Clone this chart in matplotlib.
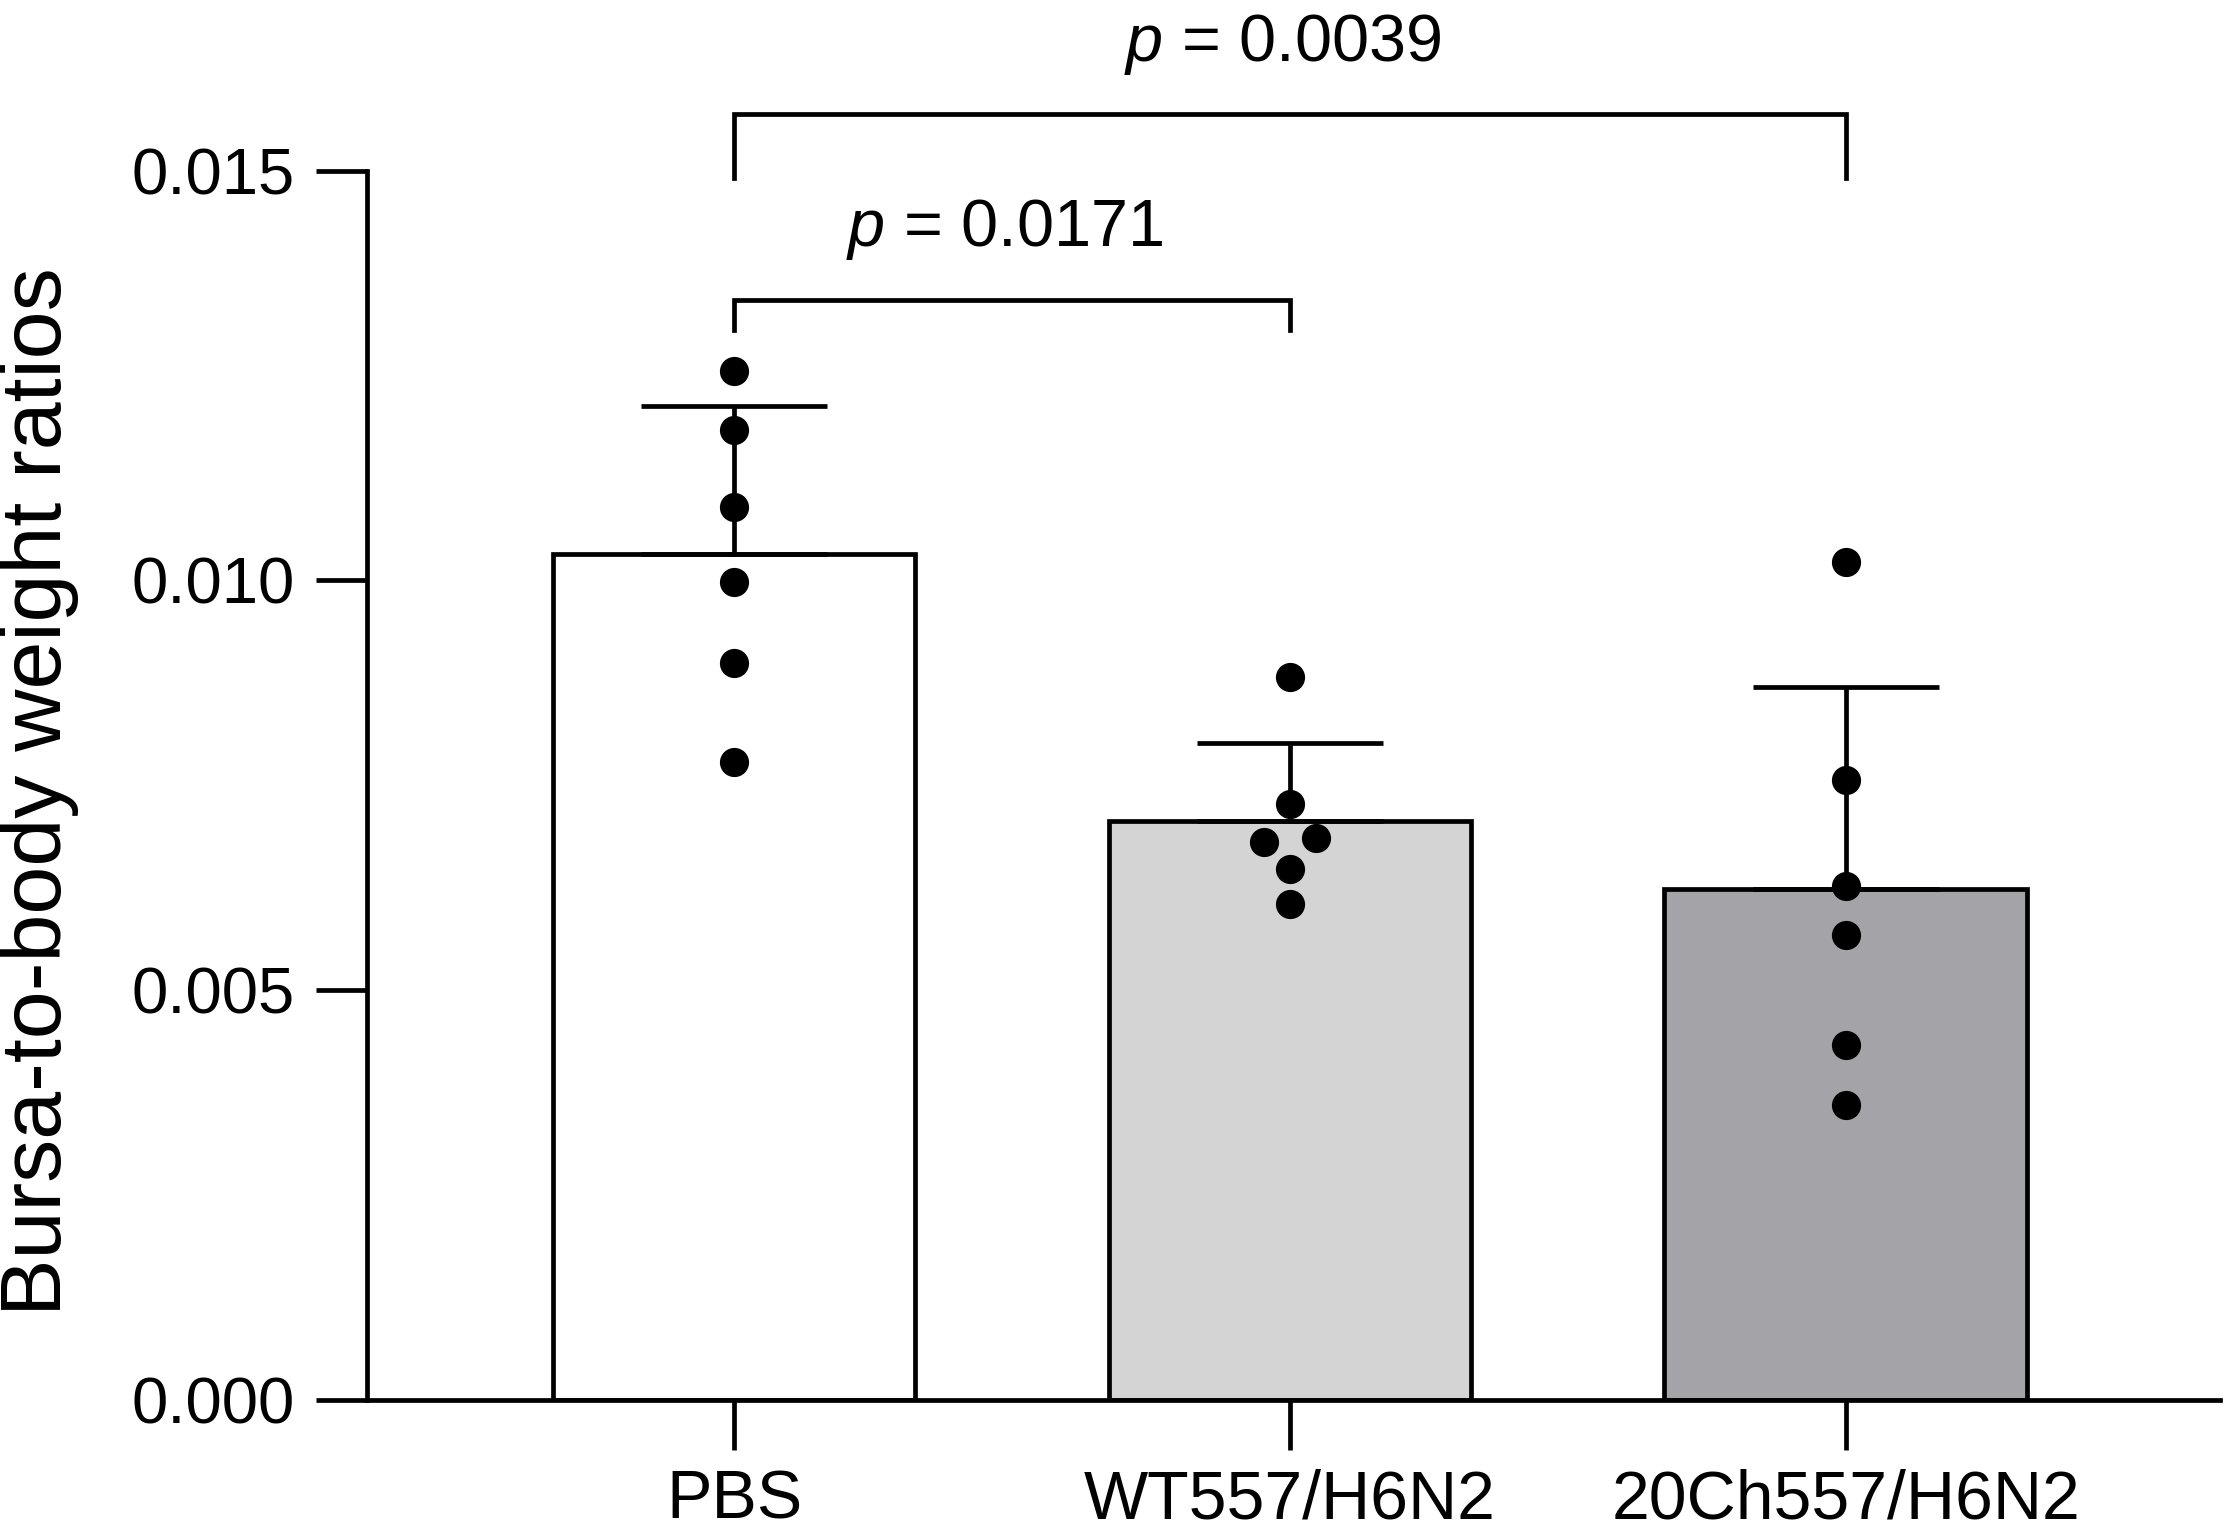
import matplotlib
matplotlib.use("Agg")
import matplotlib.pyplot as plt
import numpy as np

# ---- data ----
categories = ["PBS", "WT557/H6N2", "20Ch557/H6N2"]
means = [0.01032, 0.00707, 0.00624]
sds = [0.00181, 0.00095, 0.00246]
pbs_points = [0.01256, 0.01183, 0.01090, 0.00998, 0.00899, 0.00779]
wt_points = [0.00882, 0.00728, 0.00681, 0.00686, 0.00648, 0.00605]
ch_points = [0.01022, 0.00757, 0.00627, 0.00568, 0.00433, 0.00360]
wt_offsets = [0.0, 0.0, -0.046, 0.046, 0.0, 0.0]
bar_colors = ["#ffffff", "#d4d4d4", "#a3a3a8"]
y_ticks = [0.000, 0.005, 0.010, 0.015]
y_tick_labels = ["0.000", "0.005", "0.010", "0.015"]
comparisons = [(0, 1, "0.0171"), (0, 2, "0.0039")]
ylabel = "Bursa-to-body weight ratios"

plt.rcParams["font.family"] = ["Liberation Sans", "DejaVu Sans"]
plt.rcParams["mathtext.fontset"] = "custom"
plt.rcParams["mathtext.rm"] = "Liberation Sans"
plt.rcParams["mathtext.it"] = "Liberation Sans:italic"

LW = 3.4
fig = plt.figure(figsize=(22.28, 15.31), dpi=100)
ax = fig.add_axes([0.1645, 0.0853, 0.8317, 0.9147])

x = np.arange(len(categories))
ax.bar(x, means, width=0.652, color=bar_colors, edgecolor="black",
       linewidth=LW, zorder=2)
ax.errorbar(x, means, yerr=[np.zeros(len(means)), sds], fmt="none",
            ecolor="black", elinewidth=LW, capsize=67, capthick=LW, zorder=3)

groups = [pbs_points, wt_points, ch_points]
offs = [[0.0] * len(pbs_points), wt_offsets, [0.0] * len(ch_points)]
for i, (pts, of) in enumerate(zip(groups, offs)):
    ax.plot(np.array(of) + x[i], pts, "o", color="black", markersize=20,
            zorder=4, clip_on=False)

ax.set_xlim(-0.662, 2.673)
ax.set_ylim(0, 0.01708)
ax.set_yticks(y_ticks)
ax.set_yticklabels(y_tick_labels)
ax.set_xticks(x)
ax.set_xticklabels(categories)
ax.spines["top"].set_visible(False)
ax.spines["right"].set_visible(False)
ax.spines["left"].set_bounds(0, 0.015)
for s in ["left", "bottom"]:
    ax.spines[s].set_linewidth(LW)
ax.tick_params(axis="y", length=37, width=LW, pad=15, labelsize=47)
ax.tick_params(axis="x", length=36, width=LW, pad=13, labelsize=49)

# significance brackets
bracket_y = [0.01342, 0.01569]
bracket_drop = [0.00036, 0.00078]
text_y = [0.01408, 0.01633]
text_x = [0.486, 0.987]
for (a, b, p), yb, dr, ty, tx in zip(comparisons, bracket_y, bracket_drop, text_y, text_x):
    ax.plot([a, a, b, b], [yb - dr, yb, yb, yb - dr], color="black",
            linewidth=LW, clip_on=False, solid_joinstyle="miter")
    ax.text(tx, ty, "$p$ = " + p, ha="center", va="baseline", fontsize=48)

fig.text(0.0175, 0.483, ylabel, rotation=90, ha="center", va="center",
         fontsize=62)

fig.savefig("out.png", dpi=100)
